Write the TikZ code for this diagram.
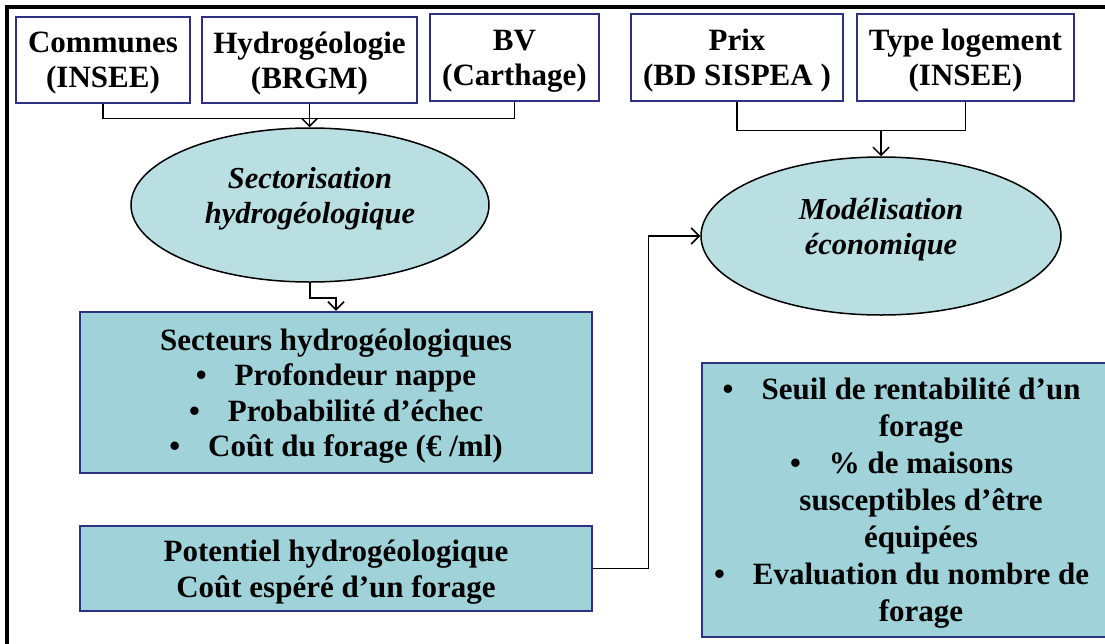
\documentclass[tikz,border=0pt]{standalone}
\usepackage{fontspec}
\setmainfont{Liberation Serif}
\usetikzlibrary{arrows.meta,shapes.geometric}

\definecolor{navy}{HTML}{2E3182}
\definecolor{boxfill}{HTML}{A0D3D9}
\definecolor{ellfill}{HTML}{B9DFE3}

\tikzset{
  srcbox/.style={draw=navy, line width=2.5pt, fill=white, rectangle,
    inner sep=0pt, align=center, text depth=0pt,
    font=\fontsize{31}{35}\selectfont\bfseries},
  resbox/.style={draw=navy, line width=2.5pt, fill=boxfill, rectangle,
    inner sep=0pt, align=center, text depth=0pt,
    font=\fontsize{31}{35.5}\selectfont\bfseries},
  process/.style={draw=black, line width=1.5pt, fill=ellfill, ellipse,
    inner sep=0pt, align=center, text depth=19pt,
    font=\fontsize{30.5}{35}\selectfont\bfseries\itshape},
  link/.style={draw=black, line width=1.5pt},
  arrowlink/.style={link, -{Straight Barb[length=8pt,width=16pt,line width=1.5pt]}},
}

\newcommand{\hbul}{\llap{\textbullet\hspace{28pt}}}

\begin{document}
\begin{tikzpicture}[x=1pt, y=-1pt]
  \useasboundingbox (0,0) rectangle (1105,643);
  \clip (0,0) rectangle (1105,643);
  \fill[white] (0,0) rectangle (1105,643);

  % outer frame (only its left and top edges fall inside the page)
  \draw[line width=4pt] (7,700) -- (7,7) -- (1200,7);

  % data sources
  \node[srcbox, minimum width=174pt, minimum height=86pt] (communes) at (103,60)
    {Communes\\(INSEE)};
  \node[srcbox, minimum width=215pt, minimum height=86pt] (hydro) at (309.5,60)
    {Hydrogéologie\\(BRGM)};
  \node[srcbox, minimum width=169pt, minimum height=87pt] (bv) at (514.5,57.5)
    {BV\\(Carthage)};
  \node[srcbox, minimum width=212pt, minimum height=87pt] (prix) at (737,57.5)
    {Prix\\(BD SISPEA )};
  \node[srcbox, minimum width=217pt, minimum height=87pt] (type) at (965.5,57.5)
    {Type logement\\(INSEE)};

  % processes
  \node[process, minimum width=358pt, minimum height=154pt] (sect) at (310,205)
    {Sectorisation\\hydrogéologique};
  \node[process, minimum width=360pt, minimum height=158pt] (modl) at (881,236)
    {Modélisation\\économique};

  % results
  \node[resbox, minimum width=512pt, minimum height=161pt] (secteurs) at (336,392.5)
    {Secteurs hydrogéologiques\\
     \textbullet\hspace{28pt}Profondeur nappe\\
     \textbullet\hspace{28pt}Probabilité d’échec\\
     \textbullet\hspace{28pt}Coût du forage (€ /ml)};
  \node[resbox, minimum width=512pt, minimum height=85pt,
        font=\fontsize{31}{36}\selectfont\bfseries] (potentiel) at (336,568.5)
    {Potentiel hydrogéologique\\Coût espéré d’un forage};
  \node[resbox, minimum width=438pt, minimum height=274pt,
        font=\fontsize{31}{37}\selectfont\bfseries] (bilan) at (921,500)
    {\hbul Seuil de rentabilité d’un\\
     forage\\
     \hbul\% de maisons\\
     susceptibles d’être\\
     équipées\\
     \hbul Evaluation du nombre de\\
     forage};

  % connectors
  \draw[link] (communes.south) -- ++(0,14) -| (bv.south);
  \draw[arrowlink] (hydro.south) -- (hydro.south |- sect.north);

  \path (prix.south) ++(0,28) coordinate (prixbend);
  \draw[link] (prix.south) -- (prixbend) -| (type.south);
  \draw[arrowlink] (prixbend -| modl.north) -- (modl.north);

  \draw[arrowlink] (sect.south) -- ++(0,15) -| (secteurs.north);
  \draw[arrowlink] (potentiel.east) -- ++(55,0) |- (modl.west);
\end{tikzpicture}
\end{document}
